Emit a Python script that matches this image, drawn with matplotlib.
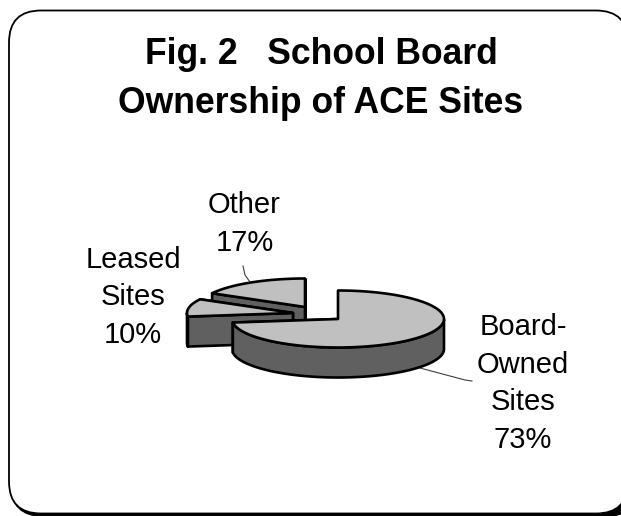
import numpy as np
import matplotlib
matplotlib.use('Agg')
import matplotlib.pyplot as plt
from matplotlib.patches import FancyBboxPatch, Polygon, Rectangle

plt.rcParams['font.family'] = ['Liberation Sans', 'DejaVu Sans']

# data
labels = ['Board-\nOwned\nSites\n73%', 'Leased\nSites\n10%', 'Other\n17%']
values = [73, 10, 17]
title = 'Fig. 2   School Board\nOwnership of ACE Sites'

# pie geometry, in pixels
apexes = [(338, 319), (293, 313), (305, 307)]
label_pos = [(523, 448), (133, 343), (244.5, 251)]
A, B, DEPTH = 106, 28.5, 30
TOP, SIDE = '#c0c0c0', '#606060'

fig = plt.figure(figsize=(6.21, 5.16), dpi=100)
ax = fig.add_axes([0, 0, 1, 1])
ax.set_xlim(0, 621)
ax.set_ylim(516, 0)
ax.axis('off')


def frame(dx, dy, fc):
    return ax.add_patch(FancyBboxPatch((9 + 32 + dx, 10.5 + 32 + dy), 555, 439, boxstyle='round,pad=32,rounding_size=32',
                                       fc=fc, ec='black', lw=1.3, zorder=1))


# shadow only shows along the bottom
for dx, dy in [(2, 2.5), (10, 2.5)]:
    shadow = frame(dx, dy, 'black')
    shadow.set_clip_path(Rectangle((0, 420), 621, 96, transform=ax.transData))
frame(0, 0, 'white')


def point(center, deg):
    t = np.radians(deg)
    return center[0] + A * np.cos(t), center[1] - B * np.sin(t)


def poly(pts, color):
    ax.add_patch(Polygon(pts, closed=True, fc=color, ec='black', lw=1.9, joinstyle='round', zorder=3))


# slices go clockwise from 12 o'clock, back ones first
starts = 90 - np.cumsum([0] + values[:-1]) * 3.6
for i in [2, 1, 0]:
    c = apexes[i]
    a0, a1 = starts[i], starts[i] - values[i] * 3.6
    angs = np.linspace(a0, a1, 200)

    # radial faces
    for e in [a1, a0]:
        p = point(c, e)
        poly([c, p, (p[0], p[1] + DEPTH), (c[0], c[1] + DEPTH)], SIDE)

    # outer wall, only the front part shows
    front = angs[np.sin(np.radians(angs)) <= 0.0]
    if len(front) > 1:
        arc = [point(c, d) for d in front]
        poly(arc + [(x, y + DEPTH) for x, y in arc[::-1]], SIDE)

    poly([c] + [point(c, d) for d in angs], TOP)

# leader lines
ax.plot([243, 245, 250], [266, 275, 282], color='#404040', lw=0.8, zorder=2)
ax.plot([420, 465, 472], [368, 380, 381], color='#404040', lw=0.8, zorder=2)

for txt, (x, y) in zip(labels, label_pos):
    ax.text(x, y, txt, ha='center', va='baseline', fontsize=21, linespacing=1.44, color='black', zorder=4)

ax.text(321, 113, title, ha='center', va='baseline', fontsize=25.6, fontweight='bold', linespacing=1.53, zorder=4)

fig.savefig('out.png', dpi=100)
